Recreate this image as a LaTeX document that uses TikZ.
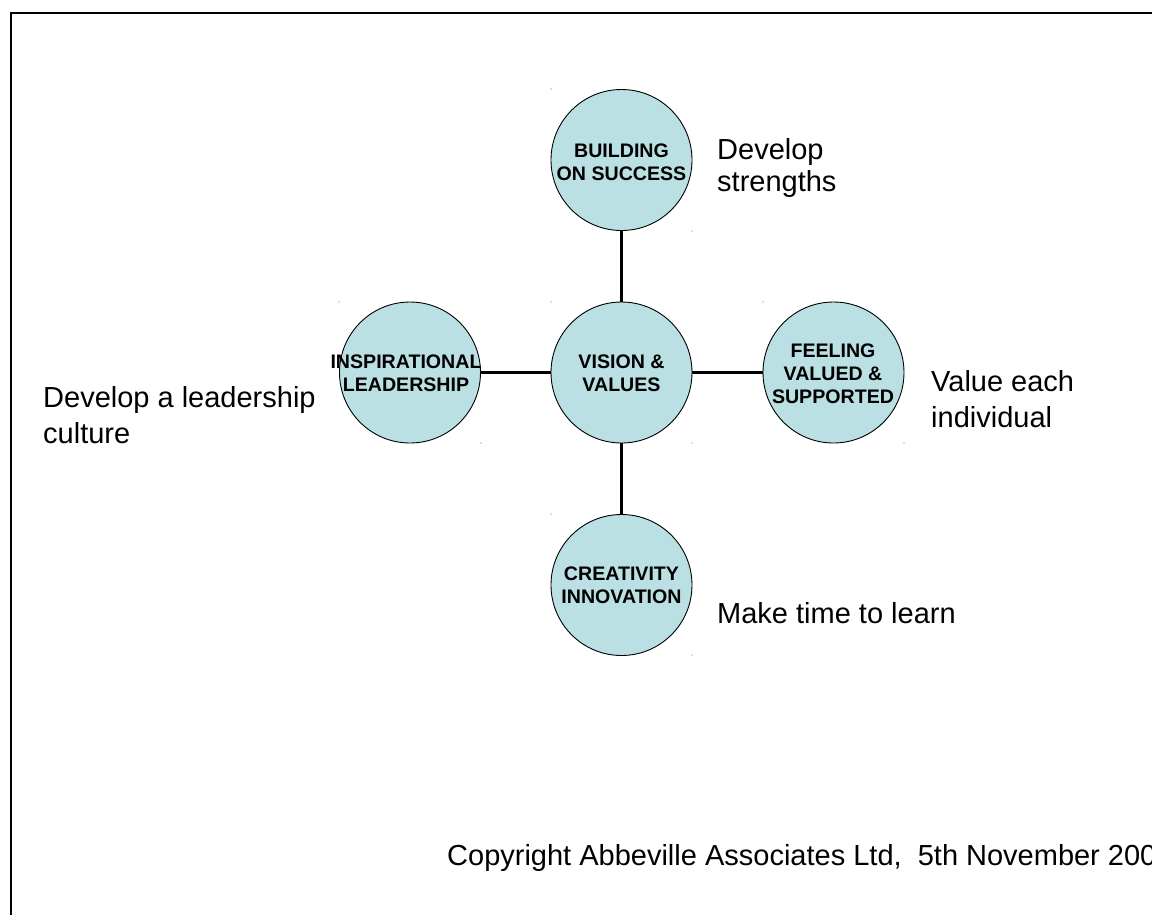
\documentclass[tikz,border=0pt]{standalone}
\usepackage{fontspec}
\setmainfont{Liberation Sans}
\definecolor{cfill}{RGB}{187,224,227}
\begin{document}
\begin{tikzpicture}[x=1pt,y=-1pt,
  circ/.style={circle, draw=black, line width=0.9pt, fill=cfill, minimum size=141pt, inner sep=0pt},
  ctext/.style={font=\fontsize{19.6}{23}\selectfont\bfseries, align=center, inner sep=0pt},
  lab/.style={font=\fontsize{29}{36}\selectfont, align=left, inner sep=0pt, anchor=base west},
  conn/.style={line width=3pt},
  mark dot/.style={fill=black!55}]
\useasboundingbox (0,0) rectangle (1152,914);
\clip (0,0) rectangle (1152,914);
\fill[white] (0,0) rectangle (1152,914);
% frame
\draw[line width=2.7pt] (11,1000) -- (11,13) -- (1200,13);
% circles
\node[circ] (top) at (621.5,160) {};
\node[circ] (mid) at (621.5,372.5) {};
\node[circ] (lft) at (410,372.5) {};
\node[circ] (rgt) at (833.5,372.5) {};
\node[circ] (bot) at (621.5,585) {};
% connectors
\draw[conn] (top) -- (mid);
\draw[conn] (mid) -- (bot);
\draw[conn] (lft) -- (mid);
\draw[conn] (mid) -- (rgt);
% circle texts
\node[ctext] (topt) at (621.5,162.5) {BUILDING\\ON SUCCESS};
\node[ctext] (midt) at (621.5,373.5) {VISION \&\\VALUES};
\node[ctext] (lftt) at (406,373.5) {INSPIRATIONAL\\LEADERSHIP};
\node[ctext] (rgtt) at (833,373.5) {FEELING\\VALUED \&\\SUPPORTED};
\node[ctext] (bott) at (621.5,585) {CREATIVITY\\INNOVATION};
% labels (base anchor = last line's baseline)
\node[lab, font=\fontsize{29}{32}\selectfont] (l1) at (717,191) {Develop\\strengths};
\node[lab] (l2) at (931,427) {Value each\\individual};
\node[lab] (l3) at (43,443) {Develop a leadership\\culture};
\node[lab] (l4) at (717,623) {Make time to learn};
\node[lab] (copy) at (447,865) {Copyright Abbeville Associates Ltd,\ \ 5th November 200};
% tiny marks
\foreach \p in {(551,89),(692,231),(339,302),(481,443),(551,302),(692,443),(763,302),(904,443),(551,514),(692,655)}
  \fill[mark dot] \p circle (0.7);
\end{tikzpicture}
\end{document}
